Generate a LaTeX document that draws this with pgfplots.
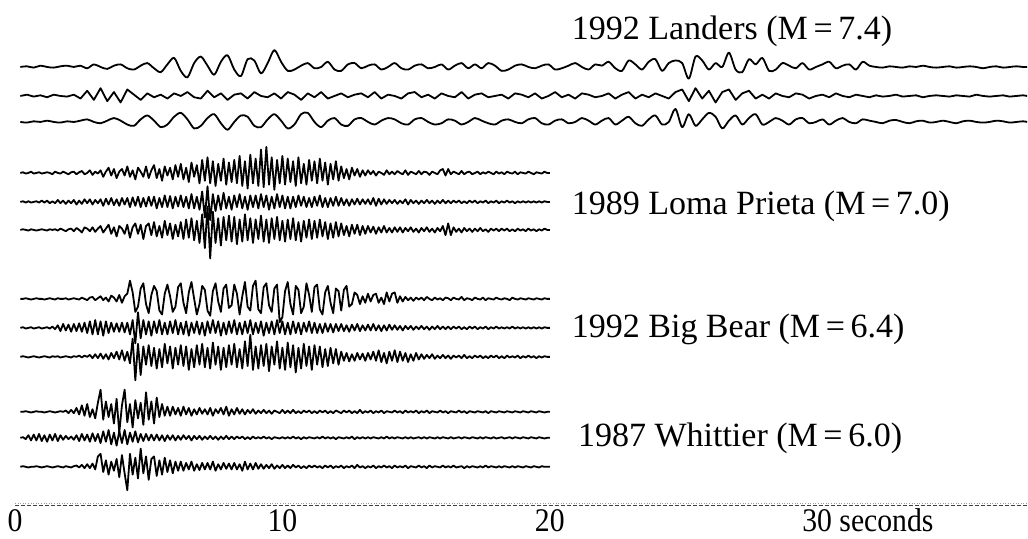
\documentclass[border=0pt]{standalone}
\usepackage{fontspec}
\setmainfont{Liberation Serif}
\newfontfamily\tickfont[FakeStretch=0.9]{Liberation Serif}
\usepackage{pgfplots}
\usepackage{pgfplotstable}
\pgfplotsset{compat=1.18}

% Landers: three components, 0.25 s sampling, deviation (up = +)
\pgfplotstableread{
t l1 l2 l3
0.2 0 0 0
0.45 0.5 1 -0.5
0.7 -0.5 -0.5 0.5
0.95 1 0.5 0
1.2 0 -1 1
1.45 -0.5 1 0
1.7 0.5 0 -0.5
1.95 1 -0.5 0.5
2.2 0 1 0
2.45 1 -2 1
2.7 -1 4 2
2.95 2 -3 0
3.2 0 6 -1
3.45 -1.5 -4 1
3.7 1 3 3
3.95 2 -5 1
4.2 -1 5 -2
4.45 -2 1 -3
4.7 1 -3 2
4.95 3 2 5
5.2 -1 -1 1
5.45 -4 1 -4
5.7 2 -2 -2
5.95 7 2 4
6.2 -3 0 7
6.45 -8 3 2
6.7 3 -1 -5
6.95 8 -2 -3
7.2 1 4 3
7.45 -6 -1 6
7.7 4 2 -1
7.95 9 -3 -6
8.2 -2 1 0
8.45 -7 2 5
8.7 6 -2 4
8.95 5 3 -3
9.2 -5 0 -4
9.45 3 -1 2
9.7 13 2 6
9.95 4 -2 1
10.2 -3 3 -5
10.45 -2 1 -2
10.7 1 -3 6
10.95 3 2 7
11.2 -1 -1 0
11.45 0 3 -4
11.7 4 -2 1
11.95 -2 0 3
12.2 -3 2 -2
12.45 2 -1 -3
12.7 3 1 2
12.95 -1 2 3
13.2 1 -1 0
13.45 2 3 -2
13.7 -2 -2 1
13.95 0 1 3
14.2 3 0 2
14.45 -1 -2 -1
14.7 -2 2 -2
14.95 1 3 2
15.2 2 -1 3
15.45 -1 1 0
15.7 0 -2 -2
15.95 2 2 -1
16.2 -2 0 2
16.45 1 -1 1
16.7 3 3 -2
16.95 -1 -2 0
17.2 2 1 3
17.45 -1 2 1
17.7 3 -1 -1
17.95 1 0 -2
18.2 -3 1 1
18.45 -2 -2 2
18.7 1 2 0
18.95 2 1 -1
19.2 0 -1 2
19.45 -1 2 3
19.7 1 -2 -1
19.95 2 0 -2
20.2 -2 3 1
20.45 -1 -1 2
20.7 1 1 -1
20.95 3 -2 0
21.2 0 2 3
21.45 -2 1 1
21.7 2 -1 -2
21.95 1 0 1
22.2 4 2 3
22.45 -1 -2 -2
22.7 -3 1 1
22.95 5 3 4
23.2 2 -2 -1
23.45 -2 1 -3
23.7 4 -1 2
23.95 6 2 5
24.2 -3 0 -2
24.45 3 -2 0
24.7 5 3 10
24.95 3 5 -4
25.2 -9 -4 6
25.45 8 6 -3
25.7 5 -2 2
25.95 -2 4 7
26.2 3 -5 4
26.45 0 3 -5
26.7 11 5 1
26.95 -2 -3 5
27.2 -4 2 -2
27.45 6 4 3
27.7 2 -2 6
27.95 7 1 -2
28.2 -3 -2 0
28.45 -2 2 3
28.7 3 0 1
28.95 1 -1 -2
29.2 -1 2 2
29.45 3 1 3
29.7 -2 -2 -1
29.95 0 0 0
30.2 2 1 2
30.45 4 -1 -2
30.7 -1 2 1
30.95 1 0 3
31.2 2 -1 0
31.45 -2 1 -1
31.7 4 0 2
31.95 1 -1 1
32.2 0 0.5 0
32.45 -0.5 -0.5 -1
32.7 0.5 0 1
32.95 0 1 1.5
33.2 -0.5 -0.5 0
33.45 0.5 0 -1
33.7 0 0.5 0.5
33.95 1 -1 1
34.2 0 0 -0.5
34.45 -0.5 0.5 0
34.7 0 0 1
34.95 0.5 -0.5 0
35.2 -0.5 0.5 -1
35.45 0 0 0.5
35.7 0.5 -0.5 1
35.95 0 1 0
36.2 -1 0 -0.5
36.45 0 -0.5 0
36.7 0.5 0 1
36.95 -0.5 0.5 0.5
37.2 0 -0.5 -0.5
37.45 0.5 0 0
37.7 0 0.5 0.5
37.85 0 0 0
}\landers

% Loma Prieta (a), Big Bear (b), Whittier (c): 0.1 s sampling
\pgfplotstableread{
t a1 a2 a3 b1 b2 b3 c1 c2 c3
0.2 0 0 0 0 0 0 0 0 0
0.3 0.5 0.5 0.5 0 0.5 0.5 0 0.5 0.5
0.4 -0.5 -0.5 0 0.5 -0.5 0 0.5 -1 0
0.5 0 0.5 -0.5 0 0 -0.5 0 2 -0.5
0.6 1 -0.5 0.5 -0.5 0.5 0 -0.5 -2 0
0.7 -0.5 0 0 0 -0.5 0.5 0 2.5 0
0.8 0 0.5 -0.5 0.5 0 0 0.5 -2 0.5
0.9 0.5 -0.5 0 0 0.5 -0.5 0 3 0
1.0 -0.5 1 0.5 0 -0.5 0 0 -2.5 -0.5
1.1 0 -0.5 0 -0.5 0 0.5 -0.5 2 0
1.2 0.5 1 -0.5 0 0.5 0 0 -3 0.5
1.3 0 -1 0.5 0.5 -0.5 -0.5 0.5 2.5 0
1.4 -1 0.5 0 0 1 0.5 0 -2 -0.5
1.5 1 -1 0.5 -0.5 -1 0 -0.5 3 0
1.6 0 1.5 -0.5 0.5 2 0.5 0 -2.5 0.5
1.7 -0.5 -1 1 0 -2.5 -0.5 0.5 2 0
1.8 1 1 0 0 3 0 0 -1.5 -0.5
1.9 0 -1.5 -1 0.5 -2 0.5 1 1.5 0.5
2.0 -1 1 0.5 -0.5 2.5 0 -1 -1 0
2.1 0.5 -1 1 0 -3 -0.5 1.5 1 -0.5
2.2 1 1.5 -1 0.5 3 0.5 -1 -1.5 0.5
2.3 -1 -2 1.5 0 -2.5 0 3 2 1
2.4 0.5 1 0 -0.5 3.5 1 -2 -2.5 -0.5
2.5 1.5 -1.5 -2 1 -3 -0.5 5 3 1.5
2.6 -1 2 2 0 4 1 -3 -2 -1
2.7 0 -1 1 -1 -4 0 6 2.5 2
2.8 2 2 -1 1 5 1.5 -4 -3 -1
2.9 -1.5 -2 2 1.5 -5 -1 2 3.5 2.5
3.0 1 1.5 -1.5 -1 6 2 -5 -2.5 -2
3.1 -0.5 -1 1 0.5 -5 -1 7 3 8
3.2 2 2 3 2 5 2.5 17 -4 10
3.3 -3 -3 -2 -1 -6 -1.5 -6 5 -4
3.4 1 2.5 1 1 5 2 8 -3 5
3.5 4 -2 4 -2 -4 -2 -4 6 -6
3.6 -2 3 -3 2.5 4 3 6 -5 4
3.7 3 -2.5 2 1 -3 -1 -9 4 -3
3.8 -4 2 -5 -2 3.5 4 10 -6 6
3.9 1 -3 3 3 -3 -2 -16 5 -8
4.0 3 3 1 -3 4 5 5 -4 9
4.1 -2 -2 -3 2 -3.5 -3 17 6 -5
4.2 5 3 4 4 4 4 -8 -5 -18
4.3 -3 -4 -6 14 -5 -5 6 4 10
4.4 2 3.5 2 5 6 14 -12 -3 -6
4.5 -5 -3 5 -10 -12 -18 9 5 7
4.6 4 4 -3 -6 12 10 -5 -3.5 -9
4.7 1 -4 4 8 -8 -14 7 3 14
4.8 -3 3 -7 12 6 8 -10 -2.5 -5
4.9 5 -3.5 3 -4 -5 -6 15 3 8
5.0 -4 4 5 -11 5 9 -6 -2 -10
5.1 2 -3 -4 3 -6 -7 8 2.5 6
5.2 6 4 6 10 5 7 -9 -2 8
5.3 -4 -5 -5 6 -4 -9 11 2.5 -7
5.4 3 3 3 -9 6 6 -4 -2 5
5.5 -6 -4 -6 -12 -5 -8 6 2 -6
5.6 5 5 7 4 4 10 -3 -2.5 7
5.7 -2 -4 -4 11 -5 -5 4 2 -4
5.8 4 4.5 5 2 5 8 -3 -1.5 5
5.9 -5 -5 -7 -10 -4 -9 4 2 -5
6.0 6 4 4 -6 6 7 -2 -2 4
6.1 -3 -3.5 -5 9 -5 -6 3 1.5 -3
6.2 7 5 6 12 4 9 -3 -1.5 4
6.3 -5 -4 -7 -3 -5 -7 4 2 -3
6.4 4 4 8 -11 5 8 -2 -1 3
6.5 -7 -5 -6 5 -6 -10 3 1.5 -2
6.6 8 6 9 13 4 6 -3 -2 4
6.7 -3 -5 -8 0 -4 -8 2 1.5 -3
6.8 6 4 7 -12 5 9 -2 -1 2
6.9 -8 -6 -10 -4 -5 -6 3 1.5 -2.5
7.0 10 8 12 10 4 10 -1.5 -1.5 3
7.1 -6 -12 -14 7 -6 -8 2 1 -2
7.2 12 12 18 -9 5 7 -2 -1 3
7.3 -8 -14 -22 -13 -4 -9 3 1.5 -2
7.4 9 6 14 6 6 11 -3 -1 4
7.5 -10 -7 -10 12 -4 -6 2 1 -3
7.6 7 5 9 -2 5 8 -1 -1.5 2
7.7 -6 -6 -12 -10 -6 -10 3 1 -2
7.8 11 7 10 8 4 7 -2 -1 3
7.9 -9 -5 -8 11 -5 -8 4 1.5 -1.5
8.0 8 4 11 -7 5 9 -3 -1 2.5
8.1 -7 -6 -9 -5 -4 -6 2 1 -2
8.2 10 5 10 11 6 10 -2 -1 3
8.3 -8 -4 -11 4 -5 -8 3 1 -2
8.4 13 6 8 -12 4 6 -1.5 -0.5 2
8.5 -10 -5 -9 2 -5 -9 2 1 -3
8.6 9 4 12 13 5 12 -2 -1 4
8.7 -12 -6 -8 -6 -4 -7 1.5 0.5 -2
8.8 14 5 9 -9 6 17 -1 -1 2.5
8.9 -8 -4 -10 10 -5 -10 2 1 -2
9.0 11 5 8 14 4 8 -1.5 -0.5 3
9.1 -10 -5 -7 -8 -4 -9 1 0.5 -1.5
9.2 18 6 11 -11 5 9 -1 -0.5 2
9.3 -11 -4 -9 9 -6 -7 1.5 1 -1.5
9.4 20 5 8 12 4 10 -1 -0.5 1.5
9.5 -9 -6 -10 -5 -4 -11 1 0.5 -1
9.6 12 4 9 -10 5 8 -1.5 -1 2
9.7 -13 -5 -7 8 -5 -6 1 0.5 -1.5
9.8 10 6 10 11 6 12 0 0 1
9.9 -8 -4 -8 -18 -4 -9 -1 -0.5 -1
10.0 13 5 7 -14 5 7 1.5 0.5 1.5
10.1 -9 -5 -9 6 -5 -10 -1 -0.5 -1
10.2 11 4 8 13 4 11 1 0.5 1
10.3 -7 -5 -7 -4 -5 -8 -1 -0.5 -1
10.4 9 4 9 -12 5 9 1.5 1 1.5
10.5 -10 -4 -8 10 -4 -12 -1 -0.5 -0.5
10.6 12 5 6 7 4 7 0.5 0.5 1
10.7 -8 -3 -9 -11 -5 -9 -1 -1 -1
10.8 7 4 7 -6 4 10 1 0.5 0.5
10.9 -9 -4 -6 12 -3 -7 -0.5 -0.5 -1
11.0 10 3 8 3 5 8 1 0.5 1
11.1 -6 -4 -7 -10 -4 -10 -1 0 -0.5
11.2 9 4 7 9 4 9 0.5 -0.5 1
11.3 -8 -3 -6 11 -4 -6 -1 0.5 -0.5
11.4 11 5 8 -8 3 8 1 -0.5 0.5
11.5 -6 -4 -5 -12 -4 -8 -0.5 1 -1
11.6 8 3 6 5 3.5 6 1 -0.5 1
11.7 -9 -4 -7 10 -3 -7 -1 0.5 -0.5
11.8 7 3 5 -3 3 7 0.5 -0.5 1
11.9 -5 -3 -6 -11 -3.5 -5 -1 0.5 -1
12.0 9 4 6 8 3 6 1 -1 0.5
12.1 -6 -3 -5 6 -2.5 -6 0 0.5 -0.5
12.2 5 3 5 -9 3 4 -1 0 1
12.3 -4 -2.5 -4 7 -2.5 -3 1 -0.5 -1
12.4 3 2 3 10 2 3 -0.5 0.5 0.5
12.5 -5 -3 -5 -6 -3 -3.5 1 -0.5 -0.5
12.6 4 2 4 -4 2.5 2 -1 1 1
12.7 -2 -2 -3 5 -2 -3 0.5 -1 -1
12.8 3 2.5 4 3 3 3 -1 0.5 1.5
12.9 -3 -2 -4 -4 -2.5 -2 1.5 -0.5 -0.5
13.0 2 2 3 2 2 2.5 -1 0.5 0.5
13.1 -2 -1.5 -3 -3 -2 -3 0.5 -0.5 -1
13.2 2 2 3 4 2.5 3 -0.5 0.5 0.5
13.3 -1 -2 -2 -2 -2 -2 1 -0.5 -0.5
13.4 1.5 3 2.5 3 3 4 -1 0.5 1
13.5 -2 -3 -3 4 -2 -3 0.5 0 -1
13.6 1 2.5 2 -3 2 5 -0.5 -0.5 0.5
13.7 0 -2 -2 1 -2.5 -4 1 0.5 -0.5
13.8 -1.5 2 3 -4 2 3 -1 -0.5 1
13.9 2 -1.5 -2 5 -2 -5 0.5 1 -0.5
14.0 -1 1.5 1.5 -2 2.5 4 0 -0.5 0.5
14.1 1 -1 -2 4 -1.5 -3 -0.5 0.5 -1
14.2 -1 1.5 2 5 2 5 1 -0.5 1
14.3 1.5 -1.5 -1.5 -3 -1.5 -4 -0.5 0.5 -0.5
14.4 0 1 2 2 1.5 4 0.5 0 0.5
14.5 -1 -1 -2 -2 -2 -3 -1 -0.5 -0.5
14.6 2 2 1.5 1.5 1.5 3 1 0.5 1
14.7 -1.5 -2 -1 -1 -1 -4 -0.5 -0.5 -1
14.8 1 1.5 2 1 1.5 2 0.5 0.5 0.5
14.9 0 -1 -1.5 -1.5 -1.5 -3 -0.5 -0.5 0
15.0 -1 1 1 1 1 3 1 0 -0.5
15.1 1.5 -1.5 -2 -0.5 -1 -2 -1 0.5 1
15.2 -1 1 1.5 1 1.5 2 0.5 -0.5 -0.5
15.3 1 -1 -1 -1 -1 -1.5 -0.5 0.5 0.5
15.4 0.5 1.5 2 1.5 1 1.5 1 -0.5 -1
15.5 -1.5 -1 -1.5 0 -1.5 -1 -1 0.5 1
15.6 1 1 1 -1 1 2 0.5 0 -0.5
15.7 0 -1.5 -2 1 -1 -1.5 0 -0.5 0.5
15.8 -1 1 1.5 -0.5 1.5 1 -0.5 0.5 0
15.9 2 -1 -1 0.5 -1 -1 1 -0.5 -0.5
16.0 3 1.5 3 -1 1 1.5 -0.5 0.5 1
16.1 -2 -1 -4 1 -1 -1 0.5 0 -0.5
16.2 3 1 5 0.5 1 1 -1 -0.5 0.5
16.3 -1 -1 -4 -1 -1 -1.5 0.5 0.5 -0.5
16.4 1 1 2 1 1 1 0 -0.5 1
16.5 0 -0.5 -1.5 0 -0.5 -0.5 -0.5 0 -0.5
16.6 -1 1 1 -0.5 1 1 1 0.5 0
16.7 1.5 -1 -2 1.5 -1 -1 -0.5 -0.5 0.5
16.8 -1 0.5 1.5 -1 0.5 1.5 0.5 0.5 -1
16.9 0.5 -1 -1 0.5 -1 -1 -1 0 0.5
17.0 1 1 1 0 1 0.5 0.5 -0.5 -0.5
17.1 -1 -0.5 -1.5 -1 -0.5 -1 0 0.5 0.5
17.2 0 1 1 1 1 1 -0.5 0 0
17.3 1 -1 -1 0 -1 -0.5 0.5 -0.5 -0.5
17.4 -1 0.5 1.5 -0.5 0.5 1 0 0.5 0.5
17.5 0.5 -0.5 -1 1 -0.5 -1 -0.5 -0.5 -0.5
17.6 -0.5 1 0.5 -1 1 0.5 0.5 0.5 1
17.7 1 -1 -1.5 0.5 -1 -1 -1 0 -0.5
17.8 0 0.5 1 0 0.5 1 0.5 -0.5 0.5
17.9 -1 -0.5 -0.5 -0.5 -0.5 -0.5 0 0.5 0
18.0 1 1 1 1 1 1 -0.5 -0.5 -0.5
18.1 -0.5 -1 -1 0 -0.5 -1 0.5 0 0.5
18.2 0.5 0.5 1 -0.5 0.5 0.5 0 0.5 -0.5
18.3 -1 -0.5 -0.5 0.5 -0.5 -1 -0.5 -0.5 0.5
18.4 1 1 1 0 0.5 1 0.5 0 0
18.5 0 -0.5 -1 -1 -0.5 -0.5 0 0.5 -0.5
18.6 -0.5 0.5 0.5 1 1 0.5 -0.5 -0.5 0.5
18.7 1 -1 -1 0 -0.5 -0.5 0.5 0.5 -0.5
18.8 -1 0.5 1 -0.5 0.5 1 0 0 0.5
18.9 0.5 -0.5 -0.5 0.5 -0.5 -1 -0.5 -0.5 0
19.0 0 0.5 0.5 0 0.5 0.5 0.5 0.5 -0.5
19.1 -0.5 -0.5 -1 -0.5 -0.5 -0.5 0 0 0.5
19.2 1 0.5 1 0.5 0.5 1 -0.5 -0.5 0
19.3 0 -0.5 -0.5 0 -0.5 -0.5 0.5 0.5 -0.5
19.4 -1 0.5 0.5 -0.5 0.5 0.5 0 0 0.5
19.5 0.5 -0.5 -1 0.5 -0.5 -1 -0.5 -0.5 0
19.6 0 0.5 0.5 0 0.5 0.5 0.5 0.5 -0.5
19.7 -0.5 -0.5 -0.5 -0.5 -0.5 -0.5 0 0 0.5
19.8 1 0.5 1 0.5 0.5 0.5 -0.5 -0.5 0
19.9 0 0 0 0 0 0 0 0 0
20.0 0 0 0 0 0 0 0 0 0
}\shorter

\begin{document}
\begin{tikzpicture}
% one y unit is 1.3pt, so the traces' yshift (in pt) places each baseline
\begin{axis}[
    scale only axis, width=1028pt, height=506pt,
    xmin=-0.5607, xmax=37.869, ymin=0, ymax=389.23,
    hide y axis, axis line style={draw=none},
    xtick={0,10,20,30}, xticklabels={0,10,20,30\rlap{\ seconds}},
    major tick length=0pt, xtick pos=bottom,
    xticklabel style={font=\tickfont\fontsize{33}{33}\selectfont, anchor=north,
        inner sep=0pt, yshift=-3pt, text height=23pt, text depth=7pt},
    clip=false,
    every axis plot/.append style={black, line width=1.8pt, line join=round, mark=none},
]
% time scale baseline
\addplot[black!40, line width=0.6pt, dotted] coordinates {(0,2.3) (37.869,2.3)};
\addplot[black!75, line width=0.8pt, dash pattern=on 4pt off 2pt] coordinates {(0,0) (37.869,0)};

% 1992 Landers
\addplot[smooth, tension=0.5, yshift=439pt] table[x=t, y=l1] {\landers};
\addplot[yshift=410pt] table[x=t, y=l2] {\landers};
\addplot[smooth, tension=0.5, yshift=384pt] table[x=t, y=l3] {\landers};

% 1989 Loma Prieta
\addplot[yshift=333pt] table[x=t, y=a1] {\shorter};
\addplot[yshift=304pt] table[x=t, y=a2] {\shorter};
\addplot[yshift=276pt] table[x=t, y=a3] {\shorter};

% 1992 Big Bear
\addplot[yshift=207pt] table[x=t, y=b1] {\shorter};
\addplot[yshift=178pt] table[x=t, y=b2] {\shorter};
\addplot[yshift=149pt] table[x=t, y=b3] {\shorter};

% 1987 Whittier
\addplot[yshift=94pt] table[x=t, y=c1] {\shorter};
\addplot[yshift=68pt] table[x=t, y=c2] {\shorter};
\addplot[yshift=39pt] table[x=t, y=c3] {\shorter};

\begin{scope}[every node/.style={anchor=base west, inner sep=0pt,
        font=\fontsize{34}{34}\selectfont}]
\node at (axis cs:20.82,359.2) {1992 Landers (M\,=\,7.4)};
\node at (axis cs:20.82,223.8) {1989 Loma Prieta (M\,=\,7.0)};
\node at (axis cs:20.82,129.2) {1992 Big Bear (M\,=\,6.4)};
\node at (axis cs:21.05,45.4) {1987 Whittier (M\,=\,6.0)};
\end{scope}
\end{axis}
\end{tikzpicture}
\end{document}
